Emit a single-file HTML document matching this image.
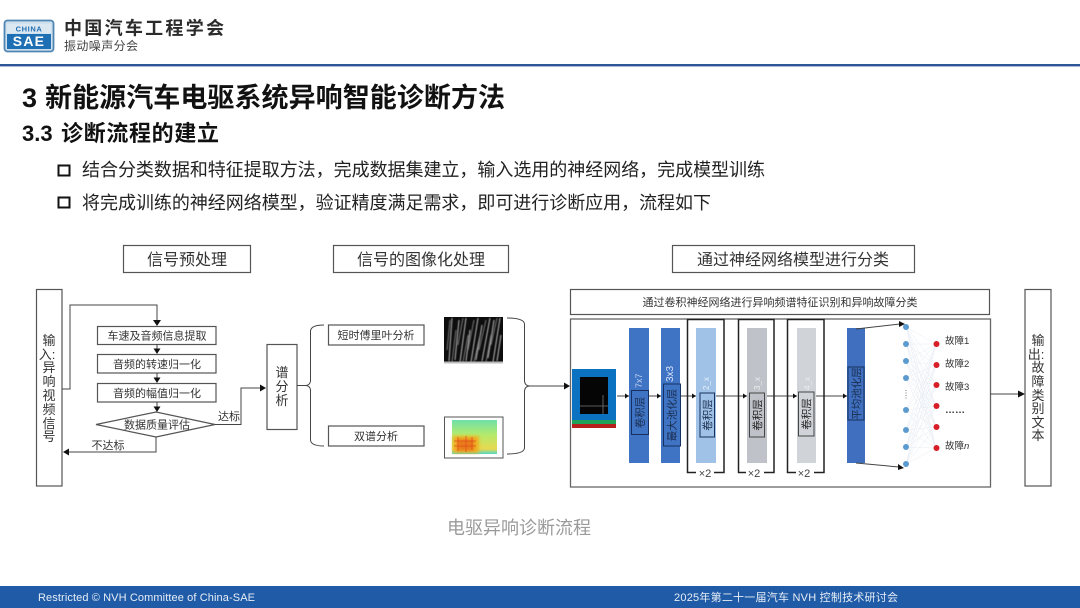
<!DOCTYPE html>
<html lang="zh">
<head>
<meta charset="utf-8">
<title>电驱异响诊断流程</title>
<style>
html,body{margin:0;padding:0;background:#fff;width:1080px;height:608px;overflow:hidden}
svg{display:block}
text{font-family:"Liberation Sans","Noto Sans CJK SC",sans-serif;fill:#333}
.b{fill:#fff;stroke:#555;stroke-width:1.2}
.l{fill:none;stroke:#444;stroke-width:1}
.t12{font-size:13px;text-anchor:middle}
.t11{font-size:11px;text-anchor:middle}
.t16{font-size:16px;text-anchor:middle}
.a{fill:#111}
.k{fill:none;stroke:#222;stroke-width:1.5}
.rl{font-size:10.5px;text-anchor:middle;fill:#1a2d4d}
</style>
</head>
<body>
<svg width="1080" height="608" viewBox="0 0 1080 608" xmlns="http://www.w3.org/2000/svg">
<defs>
<linearGradient id="heat" x1="0" y1="0" x2="0" y2="1">
<stop offset="0" stop-color="#6fe0a8"/><stop offset=".45" stop-color="#b6ea6a"/><stop offset=".85" stop-color="#e8d94e"/><stop offset="1" stop-color="#52d8c8"/>
</linearGradient>
<filter id="bl"><feGaussianBlur stdDeviation="1.6"/></filter>
<filter id="bs"><feGaussianBlur stdDeviation=".4"/></filter>
</defs>
<rect width="1080" height="608" fill="#fff"/>

<!-- header -->
<rect x="4.500" y="20.500" width="49" height="31" rx="3" fill="#cfe0ee" stroke="#4f86b3" stroke-width="1.800"/>
<rect x="7" y="24" width="44" height="9" fill="#dbe7f1"/>
<rect x="7" y="34" width="44" height="15" fill="#1f6fb4"/>
<text x="29" y="31.500" style="font-size:7.500px;font-weight:bold;fill:#1f6fb4;text-anchor:middle;letter-spacing:.6px">CHINA</text>
<text x="29" y="46" style="font-size:14px;font-weight:bold;fill:#fff;text-anchor:middle;letter-spacing:1.200px">SAE</text>
<text x="64" y="34.500" textLength="160" style="font-size:18px;font-weight:bold;fill:#2b2b2b">中国汽车工程学会</text>
<text x="64" y="50" textLength="74" style="font-size:12px;fill:#444">振动噪声分会</text>
<rect x="0" y="64" width="1080" height="2.400" fill="#2f5597"/>

<!-- headings -->
<text x="22" y="107" style="font-size:27px;font-weight:bold;fill:#111">3</text>
<text x="45" y="107" textLength="460" style="font-size:27px;font-weight:bold;fill:#111">新能源汽车电驱系统异响智能诊断方法</text>
<text x="22" y="141" style="font-size:22px;font-weight:bold;fill:#111">3.3</text>
<text x="61" y="141" textLength="158" style="font-size:22px;font-weight:bold;fill:#111">诊断流程的建立</text>
<rect x="58.500" y="165.500" width="11" height="10" fill="none" stroke="#111" stroke-width="2"/>
<text x="82" y="176" textLength="683" style="font-size:18px;fill:#222">结合分类数据和特征提取方法，完成数据集建立，输入选用的神经网络，完成模型训练</text>
<rect x="58.500" y="197.500" width="11" height="10" fill="none" stroke="#111" stroke-width="2"/>
<text x="82" y="209" textLength="629" style="font-size:18px;fill:#222">将完成训练的神经网络模型，验证精度满足需求，即可进行诊断应用，流程如下</text>

<!-- section titles -->
<rect class="b" x="123.500" y="245.500" width="127" height="27"/>
<text class="t16" x="187" y="265">信号预处理</text>
<rect class="b" x="333.500" y="245.500" width="175" height="27"/>
<text class="t16" x="421" y="265">信号的图像化处理</text>
<rect class="b" x="672.500" y="245.500" width="242" height="27"/>
<text class="t16" x="793" y="265">通过神经网络模型进行分类</text>

<!-- input box -->
<rect class="b" x="36.500" y="289.500" width="25.500" height="196.500"/>
<text class="t12" x="49" y="345">输</text>
<text class="t12" x="47" y="359">入:</text>
<text class="t12" x="49" y="372">异</text>
<text class="t12" x="49" y="386">响</text>
<text class="t12" x="49" y="400">视</text>
<text class="t12" x="49" y="414">频</text>
<text class="t12" x="49" y="428">信</text>
<text class="t12" x="49" y="441">号</text>

<!-- preprocessing flow -->
<path class="l" d="M62 389H70V305H157V321"/>
<path class="a" d="M153 320h8l-4 6z"/>
<rect class="b" x="97.500" y="326.500" width="118.500" height="18"/>
<text class="t11" x="157" y="339.500">车速及音频信息提取</text>
<path class="l" d="M157 344V350"/><path class="a" d="M153.500 348.500h7l-3.500 5.500z"/>
<rect class="b" x="97.500" y="354.500" width="118.500" height="18.500"/>
<text class="t11" x="157" y="368">音频的转速归一化</text>
<path class="l" d="M157 373V379"/><path class="a" d="M153.500 377.500h7l-3.500 5.500z"/>
<rect class="b" x="97.500" y="383.500" width="118.500" height="18.500"/>
<text class="t11" x="157" y="397">音频的幅值归一化</text>
<path class="l" d="M157 402V408"/><path class="a" d="M153.500 406.500h7l-3.500 5.500z"/>
<path class="b" d="M96 424.500L156 412L215 424.500L156 437Z"/>
<text class="t11" x="157" y="428.500">数据质量评估</text>
<path class="l" d="M215 424.500H241V388H261"/><path class="a" d="M260 384.500v7l6-3.500z"/>
<text class="t11" x="229" y="420">达标</text>
<path class="l" d="M156 437V452H68"/><path class="a" d="M69 448.500v7l-6-3.500z"/>
<text class="t11" x="108" y="449">不达标</text>

<!-- spectral analysis box -->
<rect class="b" x="267" y="344.500" width="30" height="85"/>
<text class="t12" x="282" y="377">谱</text>
<text class="t12" x="282" y="391">分</text>
<text class="t12" x="282" y="405">析</text>

<!-- left brace -->
<path class="l" stroke="#555" d="M297 385.500H306Q310 385 310.500 381V331Q311 325 324 325"/>
<path class="l" stroke="#555" d="M306 385.500Q310 386 310.500 390V440Q311 446 324 446"/>
<rect class="b" x="328.500" y="325" width="95.500" height="20"/>
<text class="t11" x="376" y="339">短时傅里叶分析</text>
<rect class="b" x="328.500" y="426" width="95.500" height="20"/>
<text class="t11" x="376" y="440">双谱分析</text>

<!-- spectrogram image -->
<rect x="444" y="317" width="59" height="46" fill="#0d0d0d"/>
<g stroke="#b5b5b5" stroke-width="1" fill="none" filter="url(#bs)">
<path d="M449 361L452 318M455 360L459 320M460 362L466 318M466 361L470 330M471 362L478 318M476 360L482 325M482 361L490 318M488 358L494 320M493 362L500 318M497 361L501 335"/>
<path stroke="#777" d="M447 350L450 320M458 345L463 318M468 350L474 320M479 350L486 320M486 362L491 335M491 345L497 318M452 362L456 330M463 362L468 335M474 362L480 335"/>
</g>
<rect x="444" y="361.500" width="59" height="2" fill="#bbb"/>

<!-- bispectrum image -->
<rect x="444.500" y="417" width="58.500" height="41" fill="#fff" stroke="#555" stroke-width="1"/>
<rect x="452" y="420" width="45" height="34" fill="url(#heat)"/>
<g filter="url(#bl)"><rect x="453" y="436" width="26" height="17" fill="#f0b020"/><rect x="457" y="439" width="17" height="12" fill="#ea7a1c"/></g>
<path d="M458 437V451M466 436V452M472 437V450M454 441H476M454 446H476" stroke="#e0501a" stroke-width=".8" fill="none"/>

<!-- right brace -->
<path class="l" stroke="#555" d="M507 318Q524 318 524.500 324V381Q525 386 530 386"/>
<path class="l" stroke="#555" d="M507 454Q524 454 524.500 448V391Q525 386 530 386"/>
<path class="l" stroke="#222" d="M530 386H566"/><path class="a" d="M564 382.500v7l6-3.500z"/>

<!-- CNN frame -->
<rect class="b" x="570.500" y="289.500" width="419" height="25"/>
<text class="t11" x="780" y="306">通过卷积神经网络进行异响频谱特征识别和异响故障分类</text>
<rect x="570.500" y="319" width="420" height="168" fill="#fff" stroke="#666" stroke-width="1.300"/>

<!-- input thumbnail -->
<rect x="572" y="369" width="44" height="51" fill="#0a72c0"/>
<rect x="572" y="420" width="44" height="4" fill="#1fa35a"/>
<rect x="572" y="424" width="44" height="4" fill="#b8201c"/>
<rect x="580" y="377" width="28" height="37" fill="#050505"/>
<path d="M580 406H608M603 395V414" stroke="#777" stroke-width=".8"/>

<!-- central connector -->
<path class="l" d="M617 396H629M649 396H661M680 396H696M716 396H747M767 396H797M816 396H847"/>
<path class="a" d="M625 393.500v5l4-2.500zM657 393.500v5l4-2.500zM692 393.500v5l4-2.500zM743 393.500v5l4-2.500zM793 393.500v5l4-2.500zM843 393.500v5l4-2.500z"/>

<!-- layers -->
<rect x="629" y="328" width="20" height="135" fill="#3f73c4"/>
<rect x="661" y="328" width="19" height="135" fill="#3f73c4"/>
<rect x="696" y="328" width="20" height="135" fill="#9fc2e6"/>
<rect x="747" y="328" width="20" height="135" fill="#bfc3c9"/>
<rect x="797" y="328" width="19" height="135" fill="#d0d3d8"/>
<rect x="847" y="328" width="18" height="135" fill="#3f6fbe"/>

<text transform="translate(642,388) rotate(-90)" style="font-size:9px;fill:#cfdcf2;opacity:.9">7x7</text>
<text transform="translate(673,382) rotate(-90)" style="font-size:10px;fill:#dbe6f7">3x3</text>
<text transform="translate(709,390) rotate(-90)" style="font-size:8px;fill:#e8f1fb">2_x</text>
<text transform="translate(760,390) rotate(-90)" style="font-size:8px;fill:#eee">3_x</text>
<text transform="translate(810,390) rotate(-90)" style="font-size:8px;fill:#eee">4_x</text>

<rect x="631.500" y="390.500" width="17" height="44" fill="#3f73c4" stroke="#17305f" stroke-width="1"/>
<text class="rl" transform="translate(643.500,412.500) rotate(-90)">卷积层</text>
<rect x="663.500" y="384" width="17" height="62" fill="#3f73c4" stroke="#17305f" stroke-width="1"/>
<text class="rl" transform="translate(675.500,415) rotate(-90)">最大池化层</text>
<rect x="700" y="393" width="14.500" height="44" fill="#9fc2e6" stroke="#17305f" stroke-width="1"/>
<text class="rl" transform="translate(711,415) rotate(-90)">卷积层</text>
<rect x="749.500" y="393" width="15" height="44" fill="#bfc3c9" stroke="#444" stroke-width="1"/>
<text class="rl" style="fill:#222" transform="translate(761,415) rotate(-90)">卷积层</text>
<rect x="798.500" y="392" width="15.500" height="44" fill="#d0d3d8" stroke="#444" stroke-width="1"/>
<text class="rl" style="fill:#222" transform="translate(810,414) rotate(-90)">卷积层</text>
<rect x="848" y="367" width="16" height="53" fill="#3f6fbe" stroke="#17305f" stroke-width="1"/>
<text class="rl" transform="translate(860,393.500) rotate(-90)">平均池化层</text>

<!-- brackets -->
<path class="k" d="M696 472.500H687.500V319.500H724V472.500H714"/>
<path class="k" d="M746 472.500H738.500V319.500H774V472.500H764"/>
<path class="k" d="M796 472.500H787.500V319.500H824V472.500H814"/>
<text class="t11" x="705" y="477" style="fill:#444">×2</text>
<text class="t11" x="754" y="477" style="fill:#444">×2</text>
<text class="t11" x="804" y="477" style="fill:#444">×2</text>

<!-- output arrows from pooling -->
<path class="l" stroke="#222" d="M856 329L900 324M856 463L899 467"/>
<path class="a" d="M899 321v6l6-3zM898 464v6l6-2z"/>

<!-- network -->
<path fill="none" stroke="#e8edf4" stroke-width=".5" d="M906 327L936 344M906 327L936 365M906 327L936 385M906 327L936 406M906 327L936 427M906 327L936 448M906 344L936 344M906 344L936 365M906 344L936 385M906 344L936 406M906 344L936 427M906 344L936 448M906 361L936 344M906 361L936 365M906 361L936 385M906 361L936 406M906 361L936 427M906 361L936 448M906 378L936 344M906 378L936 365M906 378L936 385M906 378L936 406M906 378L936 427M906 378L936 448M906 410L936 344M906 410L936 365M906 410L936 385M906 410L936 406M906 410L936 427M906 410L936 448M906 430L936 344M906 430L936 365M906 430L936 385M906 430L936 406M906 430L936 427M906 430L936 448M906 447L936 344M906 447L936 365M906 447L936 385M906 447L936 406M906 447L936 427M906 447L936 448M906 464L936 344M906 464L936 365M906 464L936 385M906 464L936 406M906 464L936 427M906 464L936 448"/>
<g fill="#5b9bd0">
<circle cx="906" cy="327" r="3"/><circle cx="906" cy="344" r="3"/><circle cx="906" cy="361" r="3"/><circle cx="906" cy="378" r="3"/>
<circle cx="906" cy="410" r="3"/><circle cx="906" cy="430" r="3"/><circle cx="906" cy="447" r="3"/><circle cx="906" cy="464" r="3"/>
</g>
<path d="M906 390V400" stroke="#777" stroke-width="1" stroke-dasharray="1 1.500"/>
<g fill="#d81e26">
<circle cx="936.500" cy="344" r="3"/><circle cx="936.500" cy="365" r="3"/><circle cx="936.500" cy="385" r="3"/><circle cx="936.500" cy="406" r="3"/><circle cx="936.500" cy="427" r="3"/><circle cx="936.500" cy="448" r="3"/>
</g>
<text x="945" y="344" style="font-size:9.500px">故障1</text>
<text x="945" y="367" style="font-size:9.500px">故障2</text>
<text x="945" y="390" style="font-size:9.500px">故障3</text>
<text x="945" y="413" style="font-size:10px;font-weight:bold">……</text>
<text x="945" y="449" style="font-size:9.500px">故障<tspan font-style="italic">n</tspan></text>

<!-- output -->
<path class="l" stroke="#222" d="M990 394H1020"/><path class="a" d="M1018 390.500v7l7-3.500z"/>
<rect class="b" x="1025" y="289.500" width="26" height="196.500"/>
<text class="t12" x="1038" y="345">输</text>
<text class="t12" x="1036" y="359">出:</text>
<text class="t12" x="1038" y="372">故</text>
<text class="t12" x="1038" y="386">障</text>
<text class="t12" x="1038" y="400">类</text>
<text class="t12" x="1038" y="413">别</text>
<text class="t12" x="1038" y="427">文</text>
<text class="t12" x="1038" y="440">本</text>

<!-- caption -->
<text x="519" y="534" textLength="144" style="font-size:18px;text-anchor:middle;fill:#9a9a9a">电驱异响诊断流程</text>

<!-- footer -->
<rect x="0" y="586" width="1080" height="22" fill="#1f5ba6"/>
<text x="38" y="601" textLength="217" style="font-size:11px;fill:#e8eef7">Restricted © NVH Committee of China-SAE</text>
<text x="674" y="601" textLength="224" style="font-size:11px;fill:#e8eef7">2025年第二十一届汽车 NVH 控制技术研讨会</text>
</svg>
</body>
</html>
